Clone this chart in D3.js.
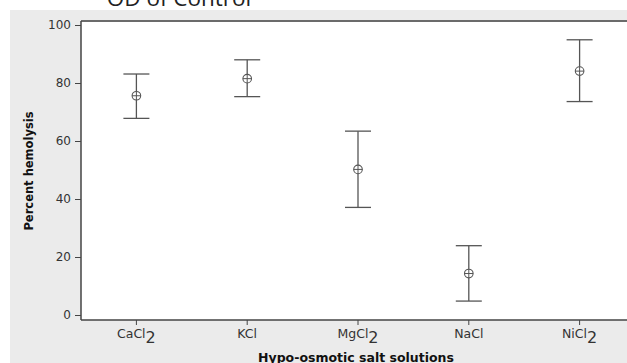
<!DOCTYPE html>
<html><head><meta charset="utf-8">
<script src="https://cdn.jsdelivr.net/npm/d3@7"></script>
<style>body{margin:0;background:#fff;}svg{display:block;}</style>
</head><body>
<script>
const categories = ["CaCl", "KCl", "MgCl", "NaCl", "NiCl"];
const subscripts = ["2", "", "2", "", "2"];
const means = [75.6, 81.5, 50.2, 14.3, 84.1];
const upper = [83.1, 88.0, 63.4, 23.9, 94.9];
const lower = [67.8, 75.3, 37.1, 4.8, 73.6];
const yTicks = [0, 20, 40, 60, 80, 100];
const title = "OD of Control";
const xTitle = "Hypo-osmotic salt solutions";
const yTitle = "Percent hemolysis";

(function () {
const W = 627, H = 363;
const svg = d3.select("body").append("svg").attr("width", W).attr("height", H);

svg.append("rect").attr("x", 10).attr("y", 10).attr("width", W - 10).attr("height", H - 10).attr("fill", "#ebebeb");

const pL = 81, pR = 635, pT = 21, pB = 320;
svg.append("rect").attr("x", pL).attr("y", pT).attr("width", pR - pL).attr("height", pB - pT).attr("fill", "#fff");

const x = d3.scaleBand().domain(categories).range([pL, pR]);
const y = d3.scaleLinear().domain([0, 100]).range([315, 25]);

svg.append("line").attr("x1", pL).attr("x2", W).attr("y1", pT).attr("y2", pT)
  .attr("stroke", "#6b6b6b").attr("stroke-width", 2);

const ya = svg.append("g").attr("transform", `translate(${pL},0)`)
  .call(d3.axisLeft(y).tickValues(yTicks).tickSize(6).tickPadding(4).tickSizeOuter(0));
ya.select(".domain").attr("d", `M0,${pT}V${pB}`).attr("stroke", "#444").attr("stroke-width", 1.5);
ya.selectAll(".tick line").attr("stroke", "#444");
ya.selectAll(".tick text").attr("fill", "#333").style("font-family", "DejaVu Sans, Verdana, sans-serif").style("font-size", "12px");

const xa = svg.append("g").attr("transform", `translate(0,${pB})`)
  .call(d3.axisBottom(x).tickSize(5).tickSizeOuter(0).tickFormat(() => ""));
xa.select(".domain").attr("d", `M${pL},0H${W}`).attr("stroke", "#444").attr("stroke-width", 1.5);
xa.selectAll(".tick line").attr("stroke", "#444");
xa.selectAll(".tick text").remove();

const labels = svg.append("g");
categories.forEach((c, i) => {
  const t = labels.append("text")
    .attr("x", x(c) + x.bandwidth() / 2)
    .attr("y", 338)
    .attr("text-anchor", "middle")
    .attr("fill", "#333")
    .style("font-family", "DejaVu Sans, Verdana, sans-serif")
    .style("font-size", "12.5px");
  t.append("tspan").text(c);
  if (subscripts[i]) t.append("tspan").attr("dy", 5).style("font-size", "16px").text(subscripts[i]);
});

const g = svg.append("g");
categories.forEach((c, i) => {
  const cx = x(c) + x.bandwidth() / 2;
  const col = "#555";
  g.append("line").attr("x1", cx).attr("x2", cx).attr("y1", y(upper[i])).attr("y2", y(lower[i])).attr("stroke", col).attr("stroke-width", 1.3);
  [upper[i], lower[i]].forEach(v => {
    g.append("line").attr("x1", cx - 13).attr("x2", cx + 13).attr("y1", y(v)).attr("y2", y(v)).attr("stroke", col).attr("stroke-width", 1.3);
  });
  const my = y(means[i]);
  g.append("circle").attr("cx", cx).attr("cy", my).attr("r", 4.3).attr("fill", "#fff").attr("stroke", col).attr("stroke-width", 1.1);
  g.append("line").attr("x1", cx - 4.3).attr("x2", cx + 4.3).attr("y1", my).attr("y2", my).attr("stroke", col).attr("stroke-width", 1);
  g.append("line").attr("x1", cx).attr("x2", cx).attr("y1", my - 4.3).attr("y2", my + 4.3).attr("stroke", col).attr("stroke-width", 1);
});

svg.append("text").attr("x", 179).attr("y", 6).attr("text-anchor", "middle")
  .attr("fill", "#222").style("font-family", "Open Sans, sans-serif").style("font-size", "22.5px").text(title);
svg.append("text").attr("x", 356).attr("y", 362).attr("text-anchor", "middle")
  .attr("fill", "#111").style("font-family", "DejaVu Sans, Verdana, sans-serif").style("font-size", "12.5px").style("font-weight", "bold").text(xTitle);
svg.append("text").attr("transform", "translate(33,171) rotate(-90)").attr("text-anchor", "middle")
  .attr("fill", "#111").style("font-family", "DejaVu Sans, Verdana, sans-serif").style("font-size", "11.5px").style("font-weight", "bold").text(yTitle);
})();
</script>
</body></html>
